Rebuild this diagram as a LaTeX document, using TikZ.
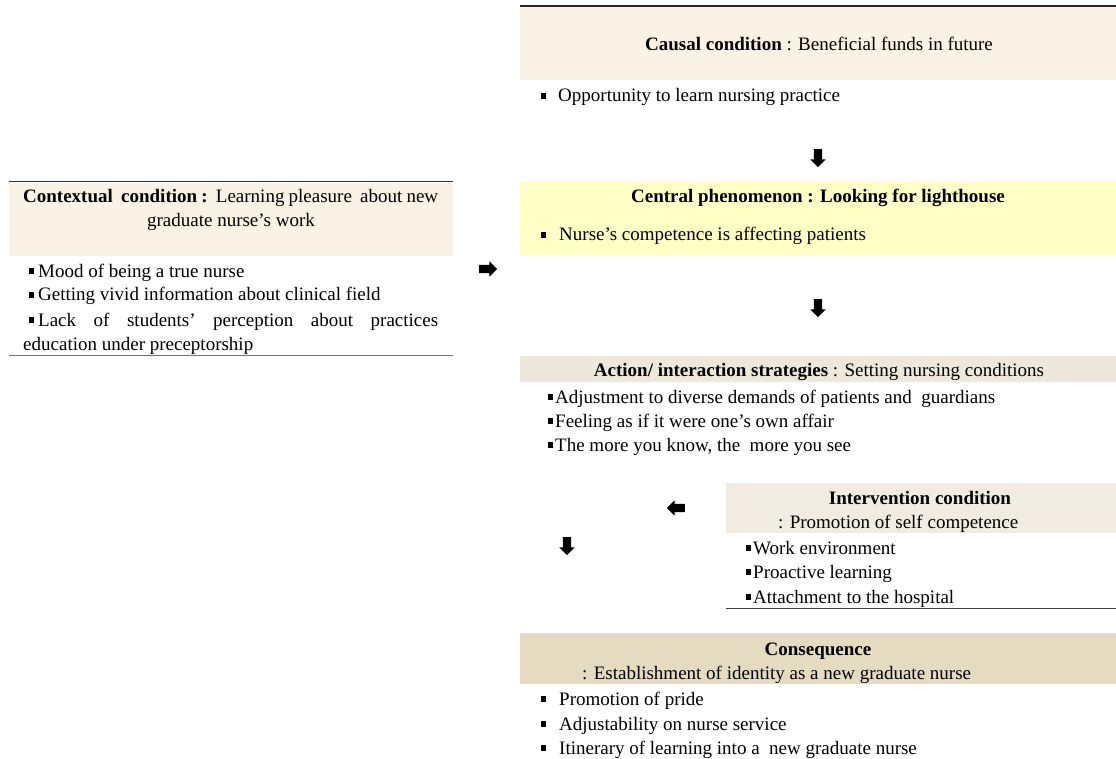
\documentclass[tikz,border=0pt]{standalone}
\usepackage{fontspec}
\setmainfont{Liberation Serif}
\usetikzlibrary{shapes.arrows}
\definecolor{causalfill}{HTML}{FBF2E6}
\definecolor{centralfill}{HTML}{FFFFC6}
\definecolor{actionfill}{HTML}{EDE8D9}
\definecolor{intervfill}{HTML}{F0ECE1}
\definecolor{conseqfill}{HTML}{E4DBC1}
\newcommand{\sqb}{\rule[3pt]{5pt}{6pt}}
\tikzset{
  txt/.style={anchor=base west, inner sep=0pt, font=\fontsize{19}{22}\selectfont},
  ctr/.style={anchor=base, inner sep=0pt, font=\fontsize{19}{22}\selectfont},
  blk/.style={single arrow, fill=black, inner xsep=0pt, inner ysep=4pt,
    minimum height=18pt, single arrow head extend=3.5pt}
}
\begin{document}
\begin{tikzpicture}[x=1pt,y=-1pt]
        \useasboundingbox (0,0) rectangle (1116,759);

        % zeichne Kaesten
        \fill[causalfill] (520,7) rectangle (1116,80);
        \draw[line width=1.5pt, black!85] (520,6) -- (1116,6);
        \fill[centralfill] (520,181) rectangle (1116,256);
        \fill[actionfill] (520,356) rectangle (1116,382);
        \fill[intervfill] (726,483) rectangle (1116,533);
        \draw[line width=1pt, black!75] (726,608) -- (1116,608);
        \fill[conseqfill] (520,633) rectangle (1116,684);
        \fill[causalfill] (9,183) rectangle (453,256);
        \draw[line width=1pt, black!80] (9,182) -- (453,182);
        \draw[line width=1pt, black!55] (9,355) -- (453,355);

        % Causal condition
        \node[ctr] (causal) at (819,51) {\textbf{Causal condition} : Beneficial funds in future};
        \node[txt] (opp) at (541,102) {\sqb\hspace{12pt}Opportunity to learn nursing practice};

        % Central phenomenon
        \node[ctr] (central) at (818,203) {\textbf{Central phenomenon : Looking for lighthouse}};
        \node[txt] (comp) at (541,241) {\sqb\hspace{13pt}Nurse's competence is affecting patients};

        % Action/ interaction strategies
        \node[ctr] (action) at (819,376) {\textbf{Action/ interaction strategies} : Setting nursing conditions};
        \node[txt] (adj) at (548,403) {\sqb\hspace{2pt}Adjustment to diverse demands of patients and\ \ guardians};
        \node[txt] (feel) at (548,427) {\sqb\hspace{2pt}Feeling as if it were one's own affair};
        \node[txt] (know) at (548,451) {\sqb\hspace{2pt}The more you know, the\ \ more you see};

        % Intervention condition
        \node[ctr] (interv) at (920,504) {\textbf{Intervention condition}};
        \node[txt] (promo) at (778,528) {: Promotion of self competence};
        \node[txt] (work) at (746,554) {\sqb\hspace{2pt}Work environment};
        \node[txt] (proact) at (746,578) {\sqb\hspace{2pt}Proactive learning};
        \node[txt] (attach) at (746,603) {\sqb\hspace{2pt}Attachment to the hospital};

        % Consequence
        \node[ctr] (conseq) at (818,655) {\textbf{Consequence}};
        \node[txt] (ident) at (582,679) {: Establishment of identity as a new graduate nurse};
        \node[txt] (pride) at (541,705) {\sqb\hspace{13pt}Promotion of pride};
        \node[txt] (service) at (541,730) {\sqb\hspace{13pt}Adjustability on nurse service};
        \node[txt] (itin) at (541,754) {\sqb\hspace{13pt}Itinerary of learning into a\ \ new graduate nurse};

        % Contextual condition
        \node[txt] (context) at (23,203) {\makebox[415pt][s]{\textbf{Contextual\ \ condition :}\ \ Learning pleasure\ \ about new}};
        \node[ctr] (context2) at (231,227) {graduate nurse's work};
        \node[txt] (mood) at (29,277) {\sqb\hspace{4pt}Mood of being a true nurse};
        \node[txt] (vivid) at (29,301) {\sqb\hspace{4pt}Getting vivid information about clinical field};
        \node[txt] (lack) at (29,326) {\makebox[409pt][s]{\sqb\hspace{4pt}Lack of students' perception about practices}};
        \node[txt] (educ) at (23,350) {education under preceptorship};

        % zeichne Pfeile
        \node[blk, rotate=-90] (down1) at (818,156) {};
        \node[blk, rotate=-90] (down2) at (818,306) {};
        \node[blk] (right1) at (486,269) {};
        \node[blk, rotate=180] (left1) at (678,508) {};
        \node[blk, rotate=-90] (down3) at (567,544) {};
\end{tikzpicture}
\end{document}
